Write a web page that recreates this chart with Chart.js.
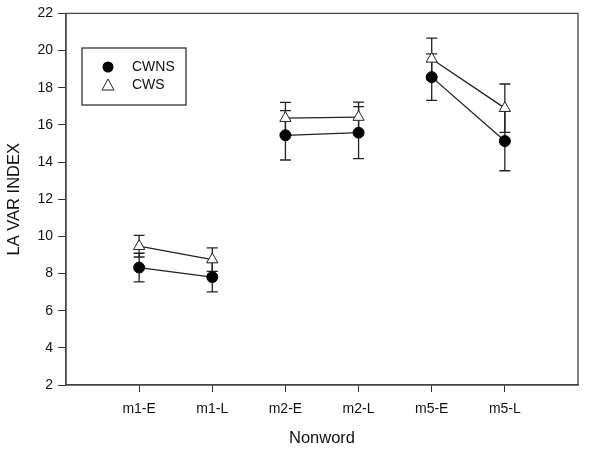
<!DOCTYPE html>
<html>
<head>
<meta charset="utf-8">
<script src="https://cdn.jsdelivr.net/npm/chart.js@4.4.1/dist/chart.umd.min.js"></script>
<style>
  html, body { margin: 0; padding: 0; background: #fff; }
  #wrap { width: 600px; height: 449px; }
</style>
</head>
<body>
<div id="wrap"><canvas id="chart" width="600" height="449"></canvas></div>
<script>
// categories on the x axis
const nonwords = ['m1-E', 'm1-L', 'm2-E', 'm2-L', 'm5-E', 'm5-L'];

// CWNS means and error (+/-)
const cwnsMean = [8.32, 7.81, 15.44, 15.58, 18.57, 15.13];
const cwnsErr  = [0.77, 0.80, 1.33, 1.40, 1.25, 1.60];

// CWS means and error (+/-)
const cwsMean = [9.47, 8.75, 16.36, 16.42, 19.55, 16.90];
const cwsErr  = [0.58, 0.63, 0.85, 0.80, 1.12, 1.30];

const yTicks = [2, 4, 6, 8, 10, 12, 14, 16, 18, 20, 22];

// points in pairs (E -> L), gap between the pairs
function toPoints(vals) {
  const pts = [];
  vals.forEach((v, i) => {
    pts.push({ x: i, y: v });
    if (i % 2 === 1 && i < vals.length - 1) pts.push({ x: i + 0.5, y: null });
  });
  return pts;
}

const FONT = '"Liberation Sans", Arial, sans-serif';

// error bars, drawn under the lines and markers
const errorBars = {
  id: 'errorBars',
  beforeDatasetsDraw(chart) {
    const { ctx, scales: { x, y } } = chart;
    ctx.save();
    ctx.strokeStyle = '#222';
    ctx.lineWidth = 1.3;
    const sets = [[cwsMean, cwsErr], [cwnsMean, cwnsErr]];
    sets.forEach(([m, e]) => {
      m.forEach((v, i) => {
        const px = x.getPixelForValue(i);
        const top = y.getPixelForValue(v + e[i]);
        const bot = y.getPixelForValue(v - e[i]);
        ctx.beginPath();
        ctx.moveTo(px, top); ctx.lineTo(px, bot);
        ctx.moveTo(px - 5.5, top); ctx.lineTo(px + 5.5, top);
        ctx.moveTo(px - 5.5, bot); ctx.lineTo(px + 5.5, bot);
        ctx.stroke();
      });
    });
    ctx.restore();
  }
};

// box round the plot and the legend inside it
const frameAndLegend = {
  id: 'frameAndLegend',
  afterDraw(chart) {
    const { ctx, chartArea: a } = chart;
    ctx.save();
    ctx.strokeStyle = '#444';
    ctx.lineWidth = 1.3;
    ctx.strokeRect(a.left, a.top, a.right - a.left, a.bottom - a.top);

    // legend box
    ctx.strokeStyle = '#222';
    ctx.lineWidth = 1.2;
    ctx.strokeRect(82, 48, 104, 57);
    ctx.font = '14px ' + FONT;
    ctx.fillStyle = '#111';
    ctx.textBaseline = 'middle';
    ctx.fillText('CWNS', 132, 67);
    ctx.fillText('CWS', 132, 85);
    ctx.beginPath();
    ctx.arc(108, 67, 5.5, 0, Math.PI * 2);
    ctx.fillStyle = '#000';
    ctx.fill();
    ctx.beginPath();
    ctx.moveTo(108, 79); ctx.lineTo(114, 90); ctx.lineTo(102, 90); ctx.closePath();
    ctx.fillStyle = '#fff';
    ctx.fill();
    ctx.strokeStyle = '#222';
    ctx.lineWidth = 1;
    ctx.stroke();
    ctx.restore();
  }
};

new Chart(document.getElementById('chart'), {
  type: 'scatter',
  data: {
    datasets: [
      {
        label: 'CWNS',
        data: toPoints(cwnsMean),
        showLine: true,
        spanGaps: false,
        borderColor: '#222',
        borderWidth: 1.3,
        pointStyle: 'circle',
        pointRadius: 5.5,
        pointBackgroundColor: '#000',
        pointBorderColor: '#000',
        pointBorderWidth: 1
      },
      {
        label: 'CWS',
        data: toPoints(cwsMean),
        showLine: true,
        spanGaps: false,
        borderColor: '#222',
        borderWidth: 1.3,
        pointStyle: 'triangle',
        pointRadius: 6.5,
        pointBackgroundColor: '#fff',
        pointBorderColor: '#222',
        pointBorderWidth: 1
      }
    ]
  },
  options: {
    responsive: false,
    animation: false,
    layout: { padding: { left: 5, right: 22, top: 12, bottom: 0 } },
    plugins: {
      legend: { display: false },
      tooltip: { enabled: false }
    },
    scales: {
      x: {
        type: 'linear',
        min: -1,
        max: 6,
        afterBuildTicks(scale) {
          scale.ticks = nonwords.map((_, i) => ({ value: i }));
        },
        afterFit(scale) { scale.height = 64; },
        grid: { drawOnChartArea: false, drawTicks: true, tickLength: 7, color: '#333' },
        border: { display: true, color: '#444', width: 1.3 },
        ticks: {
          autoSkip: false,
          maxRotation: 0,
          padding: 9,
          color: '#111',
          font: { family: FONT, size: 14 },
          callback: (v) => nonwords[v]
        },
        title: {
          display: true,
          text: 'Nonword',
          color: '#111',
          font: { family: FONT, size: 16.5 },
          padding: { top: 0, bottom: 1 }
        }
      },
      y: {
        min: 2,
        max: 22,
        afterBuildTicks(scale) {
          scale.ticks = yTicks.map(v => ({ value: v }));
        },
        afterFit(scale) { scale.width = 61; },
        grid: { drawOnChartArea: false, drawTicks: true, tickLength: 8, color: '#333' },
        border: { display: true, color: '#444', width: 1.3 },
        ticks: {
          padding: 5,
          color: '#111',
          font: { family: FONT, size: 14 }
        },
        title: {
          display: true,
          text: 'LA VAR INDEX',
          color: '#111',
          font: { family: FONT, size: 16.5 },
          padding: { top: 0, bottom: 0 }
        }
      }
    }
  },
  plugins: [errorBars, frameAndLegend]
});
</script>
</body>
</html>
